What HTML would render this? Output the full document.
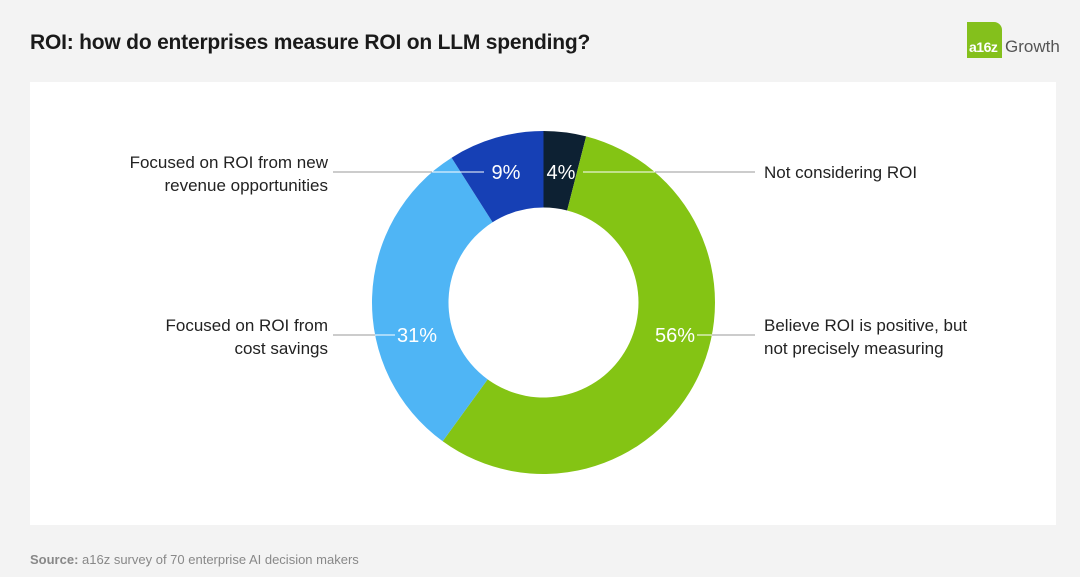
<!DOCTYPE html>
<html><head><meta charset="utf-8"><style>
body{margin:0;width:1080px;height:577px;background:#f3f3f3;font-family:"Liberation Sans",sans-serif;overflow:hidden;position:relative}
.t{position:absolute}
</style></head><body>
<div class="t" style="left:30px;top:31px;font-size:21px;font-weight:bold;color:#1a1a1a;letter-spacing:-0.2px">ROI: how do enterprises measure ROI on LLM spending?</div>
<div class="t" style="left:967px;top:22px;width:90px;height:36px">
<div style="position:absolute;left:0;top:0;width:35px;height:36px;background:#84c01c;border-radius:0 8px 0 0"></div>
<span style="position:absolute;left:2px;top:17px;color:#fff;font-size:14px;font-weight:bold;letter-spacing:-0.5px">a16z</span>
<span style="position:absolute;left:38px;top:15px;color:#555;font-size:17px">Growth</span></div>
<div class="t" style="left:30px;top:82px;width:1026px;height:443px;background:#fff"></div>
<svg class="t" style="left:0;top:0" width="1080" height="577"><g id="g"></g></svg>
<div class="t" style="left:30px;top:552px;font-size:13px;color:#888"><b>Source:</b> a16z survey of 70 enterprise AI decision makers</div>
<script>
const categories=["Not considering ROI","Believe ROI is positive, but not precisely measuring","Focused on ROI from cost savings","Focused on ROI from new revenue opportunities"];
const values=[4,56,31,9];
const colors=["#0d2133","#84c414","#4fb5f5","#1640b5"];
const cx=543.5,cy=302.5,R=171.5,r=95;
const g=document.getElementById('g');const NS='http://www.w3.org/2000/svg';
const tot=values.reduce((a,b)=>a+b,0);
function pt(a,rad){return[cx+rad*Math.sin(a),cy-rad*Math.cos(a)];}
let a0=0;
values.forEach((v,i)=>{const a1=a0+v/tot*2*Math.PI;const l=(a1-a0)>Math.PI?1:0;
const p1=pt(a0,R),p2=pt(a1,R),p3=pt(a1,r),p4=pt(a0,r);
const p=document.createElementNS(NS,'path');
p.setAttribute('d',`M${p1}L${p1}A${R},${R} 0 ${l} 1 ${p2}L${p3}A${r},${r} 0 ${l} 0 ${p4}Z`);
p.setAttribute('fill',colors[i]);


g.appendChild(p);a0=a1;});
const labelY=[172,335,335,172],side=[1,1,-1,-1],pctX=[561,675,417,506];
function line(x1,x2,y,c){const l=document.createElementNS(NS,'line');l.setAttribute('x1',x1);l.setAttribute('x2',x2);l.setAttribute('y1',y);l.setAttribute('y2',y);l.setAttribute('stroke',c);l.setAttribute('stroke-width',1);g.appendChild(l);}
values.forEach((v,i)=>{const y=labelY[i];const dx=Math.sqrt(R*R-(y-cy)**2);
const edge=cx+side[i]*dx;
if(side[i]>0){line(edge,755,y,'#999');line(pctX[i]+22,edge,y,'#fff');}
else{line(333,edge,y,'#999');line(edge,pctX[i]-22,y,'#fff');}
const t=document.createElementNS(NS,'text');t.setAttribute('x',pctX[i]);t.setAttribute('y',y+7);t.setAttribute('text-anchor','middle');t.setAttribute('fill','#fff');t.setAttribute('font-size','20');t.setAttribute('font-family','Liberation Sans');t.textContent=v+'%';


g.appendChild(t);});
</script>
<div class="t" style="left:764px;top:163px;font-size:17px;color:#222">Not considering ROI</div>
<div class="t" style="left:764px;top:314px;font-size:17px;line-height:23px;color:#222">Believe ROI is positive, but<br>not precisely measuring</div>
<div class="t" style="right:752px;top:314px;font-size:17px;line-height:23px;color:#222;text-align:right">Focused on ROI from<br>cost savings</div>
<div class="t" style="right:752px;top:151px;font-size:17px;line-height:23px;color:#222;text-align:right">Focused on ROI from new<br>revenue opportunities</div>
</body></html>
